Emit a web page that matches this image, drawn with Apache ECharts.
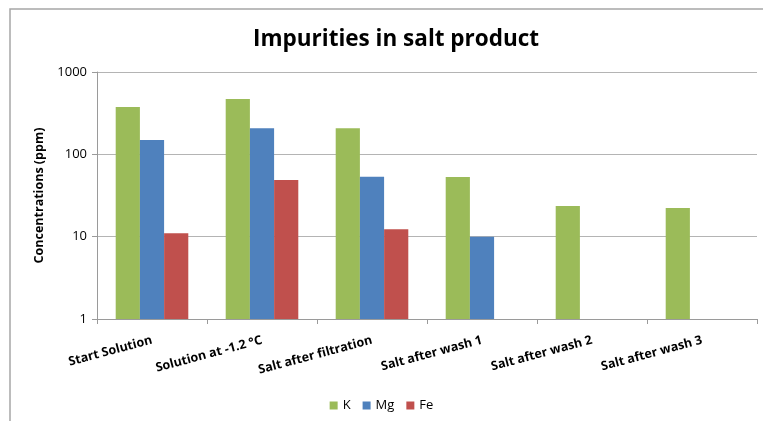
<!DOCTYPE html>
<html>
<head>
<meta charset="utf-8">
<script src="https://cdn.jsdelivr.net/npm/echarts@6/dist/echarts.min.js"></script>
<style>
  html, body { margin: 0; padding: 0; background: #fff; }
  #chart { width: 763px; height: 421px; }
</style>
</head>
<body>
<div id="chart"></div>
<script>
// Sample stages along the process
const stages = ['Start Solution', 'Solution at -1.2 °C', 'Salt after filtration',
                'Salt after wash 1', 'Salt after wash 2', 'Salt after wash 3'];
// Impurity concentrations in ppm (null = not detected)
const kValues  = [376, 470, 207, 53, 23.5, 22.3];
const mgValues = [149, 207, 53.4, 10, null, null];
const feValues = [11, 48.7, 12.3, null, null, null];
const yTicks = [1, 10, 100, 1000];

const font = 'Open Sans, Noto Sans, sans-serif';
const chart = echarts.init(document.getElementById('chart'));

chart.setOption({
  animation: false,
  backgroundColor: '#fff',
  title: {
    text: 'Impurities in salt product',
    left: 248,
    top: 23,
    textStyle: { fontFamily: font, fontSize: 22.5, fontWeight: 'bold', color: '#000' }
  },
  graphic: [{
    type: 'rect',
    shape: { x: 10, y: 9, width: 800, height: 500 },
    style: { fill: 'none', stroke: '#a6a6a6', lineWidth: 1.5 },
    silent: true
  }],
  legend: {
    bottom: 4,
    left: 'center',
    itemWidth: 8,
    itemHeight: 8,
    itemGap: 12,
    icon: 'rect',
    textStyle: { fontFamily: font, fontSize: 13, color: '#000' },
    data: ['K', 'Mg', 'Fe']
  },
  grid: { left: 97, right: 6, top: 72, bottom: 102, containLabel: false },
  xAxis: {
    type: 'category',
    data: stages,
    axisLine: { lineStyle: { color: '#9a9a9a', width: 1 } },
    axisTick: { show: true, length: 5, lineStyle: { color: '#9a9a9a' } },
    axisLabel: {
      interval: 0,
      rotate: 15,
      margin: 21,
      fontFamily: font,
      fontSize: 12.5,
      fontWeight: 'bold',
      color: '#000'
    }
  },
  yAxis: {
    type: 'log',
    logBase: 10,
    min: yTicks[0],
    max: yTicks[yTicks.length - 1],
    name: 'Concentrations (ppm)',
    nameLocation: 'middle',
    nameGap: 48,
    nameTextStyle: { fontFamily: font, fontSize: 12.5, fontWeight: 'bold', color: '#000' },
    axisLine: { show: true, lineStyle: { color: '#9a9a9a', width: 1 } },
    axisTick: { show: true, length: 5, inside: false, lineStyle: { color: '#9a9a9a' } },
    axisLabel: {
      fontFamily: font, fontSize: 13, color: '#000', margin: 10,
      formatter: (v) => String(v)
    },
    splitLine: { show: true, lineStyle: { color: '#b4b4b4', width: 1 } }
  },
  series: [
    { name: 'K',  type: 'bar', data: kValues,  itemStyle: { color: '#9BBB59' }, barGap: '0%', barCategoryGap: '34%' },
    { name: 'Mg', type: 'bar', data: mgValues, itemStyle: { color: '#4F81BD' }, barGap: '0%', barCategoryGap: '34%' },
    { name: 'Fe', type: 'bar', data: feValues, itemStyle: { color: '#C0504D' }, barGap: '0%', barCategoryGap: '34%' }
  ]
});
</script>
</body>
</html>
